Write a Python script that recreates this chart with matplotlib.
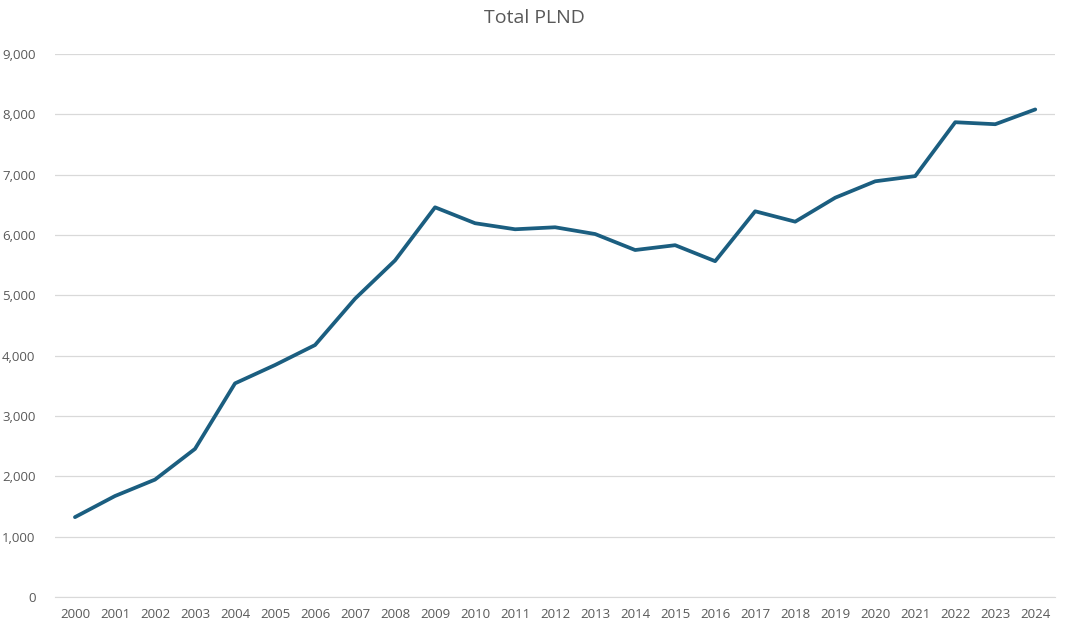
import matplotlib
matplotlib.use('Agg')
import matplotlib.pyplot as plt
from matplotlib.ticker import FuncFormatter

# yearly totals
years = [str(y) for y in range(2000, 2025)]
plnd = [1324, 1674, 1946, 2455, 3541, 3845, 4176, 4944, 5579, 6459,
        6195, 6095, 6128, 6016, 5751, 5831, 5566, 6393, 6221, 6618,
        6890, 6976, 7869, 7836, 8081]

plt.rcParams['font.family'] = ['Open Sans', 'DejaVu Sans']

fig = plt.figure(figsize=(10.67, 6.27), dpi=100)
ax = fig.add_axes([0.0515, 0.0478, 0.9375, 0.8661])

ax.plot(range(len(years)), plnd, color='#1b5e80', linewidth=2.7, solid_capstyle='round')

ax.set_xlim(-0.5, len(years) - 0.5)
ax.set_ylim(0, 9000)
ax.set_yticks(range(0, 9001, 1000))
ax.yaxis.set_major_formatter(FuncFormatter(lambda v, p: f'{int(v):,}'))
ax.set_xticks(range(len(years)))
ax.set_xticklabels(years)

ax.grid(axis='y', color='#d9d9d9', linewidth=0.9)
ax.set_axisbelow(True)
for side in ['top', 'right', 'left']:
    ax.spines[side].set_visible(False)
ax.spines['bottom'].set_color('#d9d9d9')
ax.tick_params(axis='both', length=0, labelsize=9.5, labelcolor='#595959')
ax.tick_params(axis='y', pad=14)
ax.tick_params(axis='x', pad=8)

fig.text(0.5005, 0.971, 'Total PLND', ha='center', va='center', fontsize=14, color='#595959')

fig.savefig('out.png', dpi=100)
plt.close(fig)
